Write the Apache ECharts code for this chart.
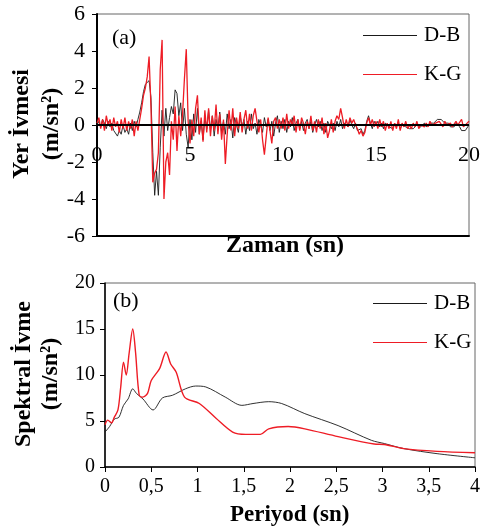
<!DOCTYPE html>
<html><head><meta charset="utf-8">
<script src="https://cdn.jsdelivr.net/npm/echarts@6/dist/echarts.min.js"></script>
<style>html,body{margin:0;padding:0;background:#fff}#c{width:483px;height:531px}</style>
</head><body><div id="c"></div>
<script>
// ---- Data ----
const dt = 0.1; // sampling step of the time histories (s)
const accDB = [
 0.0, 0.2, -0.1, 0.3, 0.1, -0.2, 0.2, -0.1, 0.1, -0.3,
 -0.2, -0.6, -0.3, -0.5, 0.0, -0.4, -0.2, -0.5, 0.1, -0.3,
 0.2, -0.1, 0.3, 0.7, 1.2, 1.8, 2.2, 2.3, 2.4, 1.5,
 -1.5, -3.8, -2.5, -3.8, -1.2, 0.8, -0.6, 0.9, -0.3, 0.4,
 1.0, 0.6, 1.9, 1.7, 0.5, 1.2, -0.3, 0.9, -0.5, -1.2,
 0.3, -0.8, 0.6, -0.4, 0.9, -0.5, 0.2, -0.8, 0.4, -0.2,
 0.8, -0.3, 0.5, -0.6, 0.3, -0.2, 0.7, -0.4, 0.2, -0.5,
 0.6, -0.2, 0.3, -0.7, 0.4, 0.0, -0.4, 0.5, -0.1, 0.3,
 -0.5, 0.2, -0.3, 0.6, -0.2, 0.1, -0.5, 0.3, 0.0, -0.4,
 0.4, -0.1, 0.3, -0.3, 0.2, -0.6, 0.1, 0.5, -0.4, 0.2,
 -0.2, 0.3, -0.4, 0.2, -0.1, 0.4, -0.3, 0.1, 0.3, -0.2,
 0.2, -0.3, 0.1, 0.3, -0.2, 0.2, -0.4, 0.0, 0.3, -0.1,
 0.2, -0.3, 0.1, -0.4, 0.2, 0.3, -0.2, 0.1, -0.3, 0.2,
 -0.1, 0.3, -0.2, 0.1, 0.2, -0.1, 0.3, 0.0, -0.2, 0.1,
 -0.3, -0.4, -0.2, -0.5, -0.3, 0.2, 0.5, 0.1, -0.2, 0.2,
 0.0, 0.2, -0.1, 0.1, -0.2, 0.1, 0.2, -0.1, 0.0, -0.2,
 0.1, -0.1, 0.1, -0.2, 0.0, 0.1, -0.1, 0.0, -0.2, -0.3,
 -0.2, -0.1, 0.0, 0.1, -0.1, 0.0, 0.1, -0.1, 0.0, 0.1,
 0.2, 0.1, 0.2, 0.3, 0.2, 0.3, 0.2, 0.1, 0.0, 0.1,
 -0.1, 0.0, -0.1, 0.1, 0.0, -0.1, -0.3, -0.3, -0.3, -0.3,
 0.0
];
const accKG = [
 0.1, 0.4, -0.2, 0.3, -0.3, 0.5, 0.0, 0.3, -0.3, 0.4,
 -0.1, 0.2, -0.4, 0.3, -0.2, 0.4, -0.3, 0.2, -0.2, 0.3,
 -0.6, 0.2, -0.3, 0.3, 0.9, 1.6, 2.0, 2.6, 3.7, 1.0,
 -3.1, -2.6, -2.4, -1.5, 3.0, 4.6, -4.0, -2.0, -1.5, -2.7,
 0.2, -0.8, 1.0, -1.4, 0.5, -0.6, 0.6, 2.5, 4.1, 0.2,
 -1.0, 0.3, -0.6, 0.9, 1.6, -0.5, 0.4, -0.9, 0.8, -0.4,
 0.9, -0.6, 0.5, -0.3, 1.1, -0.5, 0.6, -0.8, 0.3, -2.1,
 -0.5, 0.8, -0.3, 0.9, -0.6, 0.4, -0.2, 0.7, -0.4, 0.3,
 0.8, -0.2, 0.6, -0.3, 0.5, 0.9, 0.2, -0.4, 0.3, -0.8,
 -1.6, -0.6, 0.4, -0.3, -1.0, 0.2, 0.4, -0.2, 0.3, -0.2,
 0.4, -0.3, 0.6, -0.2, 0.3, 0.0, 0.5, -0.4, 0.3, -0.3,
 0.4, 0.1, -0.5, 0.2, -0.2, 0.5, -0.3, 0.2, -0.4, 0.3,
 -0.2, 0.4, -0.5, 0.1, -0.7, -0.3, 0.3, -0.4, 0.2, 0.5,
 0.3, 0.9, 0.4, -0.2, 0.3, -0.1, 0.4, 0.1, 0.3, 0.0,
 -0.2, -0.5, -0.3, -0.6, -0.4, 0.1, 0.4, 0.0, 0.3, -0.1,
 0.2, -0.2, 0.3, -0.1, 0.2, -0.3, 0.1, -0.2, 0.2, -0.3,
 0.1, -0.2, 0.3, -0.3, 0.1, -0.1, 0.2, -0.2, 0.0, -0.2,
 0.1, -0.1, 0.2, -0.2, 0.0, 0.1, -0.1, 0.1, -0.1, 0.2,
 0.0, -0.1, 0.1, 0.0, 0.2, 0.1, -0.1, 0.2, 0.0, -0.1,
 0.1, -0.1, 0.0, 0.2, 0.0, 0.1, 0.3, -0.1, -0.2, 0.1,
 0.2
];
const periodDB = [0, 0.05, 0.1, 0.15, 0.2, 0.25, 0.3, 0.34, 0.41, 0.52, 0.62, 0.73, 0.87, 0.98, 1.09, 1.3, 1.48, 1.6, 1.77, 1.91, 2.16, 2.52, 2.88, 3.02, 3.23, 3.59, 4.0];
const saDB = [3.8, 4.4, 5.2, 5.4, 6.7, 7.4, 8.5, 8.0, 7.4, 6.2, 7.5, 7.8, 8.5, 8.8, 8.7, 7.6, 6.7, 6.9, 7.1, 6.9, 5.8, 4.5, 2.9, 2.55, 2.0, 1.45, 1.0];
const periodKG = [0, 0.03, 0.07, 0.1, 0.14, 0.17, 0.2, 0.23, 0.26, 0.3, 0.33, 0.37, 0.41, 0.46, 0.5, 0.59, 0.66, 0.71, 0.77, 0.86, 1.02, 1.2, 1.38, 1.52, 1.68, 1.77, 1.98, 2.16, 2.52, 2.91, 3.02, 3.23, 3.59, 4.0];
const saKG = [4.6, 5.1, 4.8, 5.4, 6.2, 8.7, 11.4, 10.0, 12.3, 15.0, 12.5, 7.8, 7.6, 8.0, 9.4, 10.7, 12.5, 11.2, 10.3, 7.6, 6.9, 5.3, 3.8, 3.55, 3.55, 4.15, 4.4, 4.15, 3.3, 2.5, 2.45, 2.0, 1.7, 1.55];
const accTicks = [-6, 6, 2];
const timeTicks = [0, 20, 5];
const saTicks = [0, 20, 5];
const periodTicks = [0, 4, 0.5];
const seriesNames = ['D-B', 'K-G'];

// ---- Chart ----
const FONT = '"Liberation Serif", "Times New Roman", serif';
const BLACK = '#1a1a1a', RED = '#ee1c25';
const pairs = (xs, ys) => ys.map((y, i) => [xs[i], y]);
const timed = ys => ys.map((y, i) => [+(i * dt).toFixed(2), y]);
const lab = size => ({color: '#000', fontFamily: FONT, fontSize: size});

const chart = echarts.init(document.getElementById('c'), null, {renderer: 'canvas'});
chart.setOption({
  animation: false,
  backgroundColor: '#fff',
  textStyle: {fontFamily: FONT},
  grid: [
    {left: 97, top: 14, width: 377, height: 222, show: true, borderColor: '#666', borderWidth: 1},
    {left: 105, top: 283, width: 375, height: 184, show: true, borderColor: '#666', borderWidth: 1}
  ],
  xAxis: [
    {gridIndex: 0, type: 'value', min: timeTicks[0], max: timeTicks[1], interval: timeTicks[2],
     axisLine: {onZero: false, lineStyle: {color: '#000', width: 2}}, axisTick: {show: false},
     axisLabel: Object.assign({margin: -92}, lab(22)), splitLine: {show: false}},
    {gridIndex: 1, type: 'value', min: periodTicks[0], max: periodTicks[1], interval: periodTicks[2],
     axisLine: {onZero: false, lineStyle: {color: '#000', width: 1.5}}, axisTick: {length: 5, lineStyle: {color: '#000'}},
     axisLabel: Object.assign({margin: 10, formatter: v => String(v).replace('.', ',')}, lab(20)), splitLine: {show: false}}
  ],
  yAxis: [
    {gridIndex: 0, type: 'value', min: accTicks[0], max: accTicks[1], interval: accTicks[2],
     axisLine: {onZero: false, lineStyle: {color: '#000', width: 2}}, axisTick: {show: true, length: 5, lineStyle: {color: '#000'}},
     axisLabel: Object.assign({margin: 12}, lab(22)), splitLine: {show: false}},
    {gridIndex: 1, type: 'value', min: saTicks[0], max: saTicks[1], interval: saTicks[2],
     axisLine: {onZero: false, lineStyle: {color: '#000', width: 1.5}}, axisTick: {show: true, length: 5, lineStyle: {color: '#000'}},
     axisLabel: Object.assign({margin: 10}, lab(20)), splitLine: {show: false}}
  ],
  legend: [
    {orient: 'vertical', left: 358, top: 20, icon: 'rect', itemWidth: 54, itemHeight: 1.2, itemGap: 18,
     textStyle: {fontFamily: FONT, fontSize: 21, color: '#000', padding: [0, 0, 0, 2]}, data: seriesNames},
    {orient: 'vertical', left: 368, top: 288, icon: 'rect', itemWidth: 54, itemHeight: 1.2, itemGap: 18,
     textStyle: {fontFamily: FONT, fontSize: 21, color: '#000', padding: [0, 0, 0, 2]}, data: seriesNames}
  ],
  series: [
    {name: seriesNames[0], type: 'line', xAxisIndex: 0, yAxisIndex: 0, symbol: 'none', data: timed(accDB),
     lineStyle: {color: BLACK, width: 0.9}, itemStyle: {color: BLACK}, z: 3,
     markLine: {silent: true, symbol: 'none', label: {show: false}, lineStyle: {color: '#000', width: 2, type: 'solid'},
                data: [{yAxis: 0}], z: 5}},
    {name: seriesNames[1], type: 'line', xAxisIndex: 0, yAxisIndex: 0, symbol: 'none', data: timed(accKG),
     lineStyle: {color: RED, width: 1.3}, itemStyle: {color: RED}, z: 4},
    {name: seriesNames[0], type: 'line', xAxisIndex: 1, yAxisIndex: 1, symbol: 'none', smooth: 0.3, data: pairs(periodDB, saDB),
     lineStyle: {color: BLACK, width: 0.9}, itemStyle: {color: BLACK}},
    {name: seriesNames[1], type: 'line', xAxisIndex: 1, yAxisIndex: 1, symbol: 'none', smooth: 0.3, data: pairs(periodKG, saKG),
     lineStyle: {color: RED, width: 1.4}, itemStyle: {color: RED}}
  ],
  graphic: [
    {type: 'text', left: 112, top: 27, style: {text: '(a)', font: '22px ' + FONT, fill: '#000'}},
    {type: 'text', left: 113, top: 290, style: {text: '(b)', font: '22px ' + FONT, fill: '#000'}},
    {type: 'text', left: 226, top: 234, style: {text: 'Zaman (sn)', font: 'bold 24px ' + FONT, fill: '#000'}},
    {type: 'text', left: 230, top: 504, style: {text: 'Periyod (sn)', font: 'bold 23px ' + FONT, fill: '#000'}},
    {type: 'text', x: 37, y: 124, rotation: Math.PI / 2,
     style: {text: 'Yer İvmesi\n(m/sn²)', font: 'bold 24px ' + FONT, fill: '#000', align: 'center', verticalAlign: 'middle', lineHeight: 30}},
    {type: 'text', x: 37, y: 374, rotation: Math.PI / 2,
     style: {text: 'Spektral İvme\n(m/sn²)', font: 'bold 24px ' + FONT, fill: '#000', align: 'center', verticalAlign: 'middle', lineHeight: 27}}
  ]
});
</script></body></html>
